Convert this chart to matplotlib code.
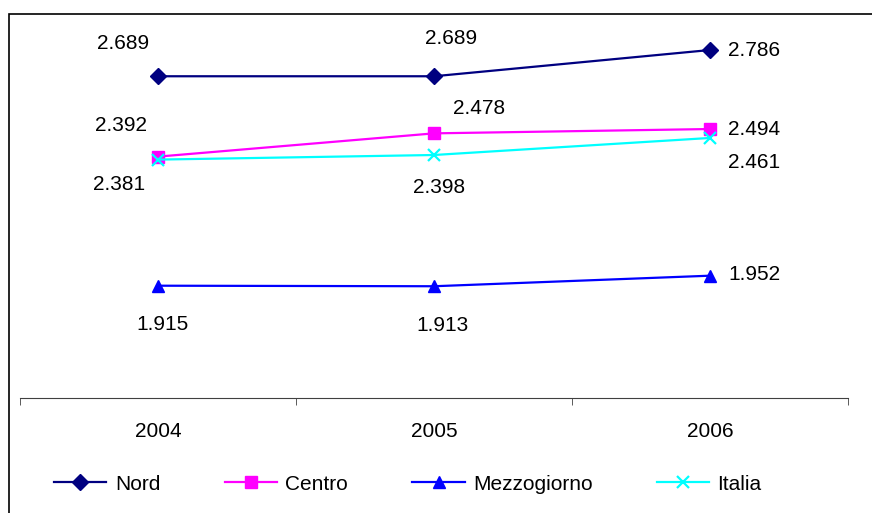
import matplotlib
matplotlib.use('Agg')
import matplotlib.pyplot as plt
from matplotlib.patches import Rectangle

# --- Data ---
years = ['2004', '2005', '2006']
nord = [2.689, 2.689, 2.786]
centro = [2.392, 2.478, 2.494]
mezzogiorno = [1.915, 1.913, 1.952]
italia = [2.381, 2.398, 2.461]

plt.rcParams['font.family'] = ['Liberation Sans', 'DejaVu Sans']

fig = plt.figure(figsize=(8.72, 5.13), dpi=100)
W, H = 872, 513

# plot area: x 20..848 px, y 20..398 px (from top)
ax = fig.add_axes([20 / W, (H - 398) / H, 828 / W, 378 / H])
x = list(range(len(years)))

series = [
    ('Nord', nord, '#000080', 'D', 8),
    ('Centro', centro, '#FF00FF', 's', 8),
    ('Mezzogiorno', mezzogiorno, '#0000FF', '^', 9),
    ('Italia', italia, '#00FFFF', 'x', 9),
]
for name, vals, col, mk, ms in series:
    ax.plot(x, vals, color=col, marker=mk, markersize=ms, linewidth=1.6,
            markeredgewidth=1.6 if mk == 'x' else 1.0, label=name)

# label offsets in pixels (dx, dy, horizontal alignment)
offsets = {
    'Nord': [(-35, 33, 'center'), (17, 38, 'center'), (18, 0, 'left')],
    'Centro': [(-37, 31, 'center'), (45, 25, 'center'), (18, 0, 'left')],
    'Mezzogiorno': [(4, -39, 'center'), (9, -39, 'center'), (18, 1, 'left')],
    'Italia': [(-39, -25, 'center'), (5, -32, 'center'), (18, -25, 'left')],
}
for name, vals, col, mk, ms in series:
    for i, v in enumerate(vals):
        dx, dy, ha = offsets[name][i]
        ax.annotate(f'{v:.3f}', (i, v), xytext=(dx, dy), textcoords='offset pixels',
                    ha=ha, va='center', fontsize=15)

ax.set_xlim(-0.5, 2.5)
ax.set_ylim(1.5, 1.5 + 378 / 270.6)

for s in ['top', 'right', 'left']:
    ax.spines[s].set_visible(False)
ax.spines['bottom'].set_color('#404040')
ax.set_yticks([])
ax.set_xticks(x)
ax.set_xticklabels(years, fontsize=15)
ax.tick_params(axis='x', which='major', length=0, pad=17)
ax.set_xticks([-0.5, 0.5, 1.5, 2.5], minor=True)
ax.tick_params(axis='x', which='minor', length=5, color='#404040', direction='out')

fig.legend(loc='center', bbox_to_anchor=(408 / W, (H - 484) / H), ncol=4, frameon=False,
           fontsize=15, handlelength=2.5, handletextpad=0.4, columnspacing=3.1)

# outer chart frame (right and bottom edges fall outside the picture)
fig.patches.append(Rectangle((9 / W, -0.1), 1.2, (H - 14) / H + 0.1, transform=fig.transFigure,
                             fill=False, edgecolor='black', linewidth=1.2))

fig.savefig('out.png', dpi=100)
